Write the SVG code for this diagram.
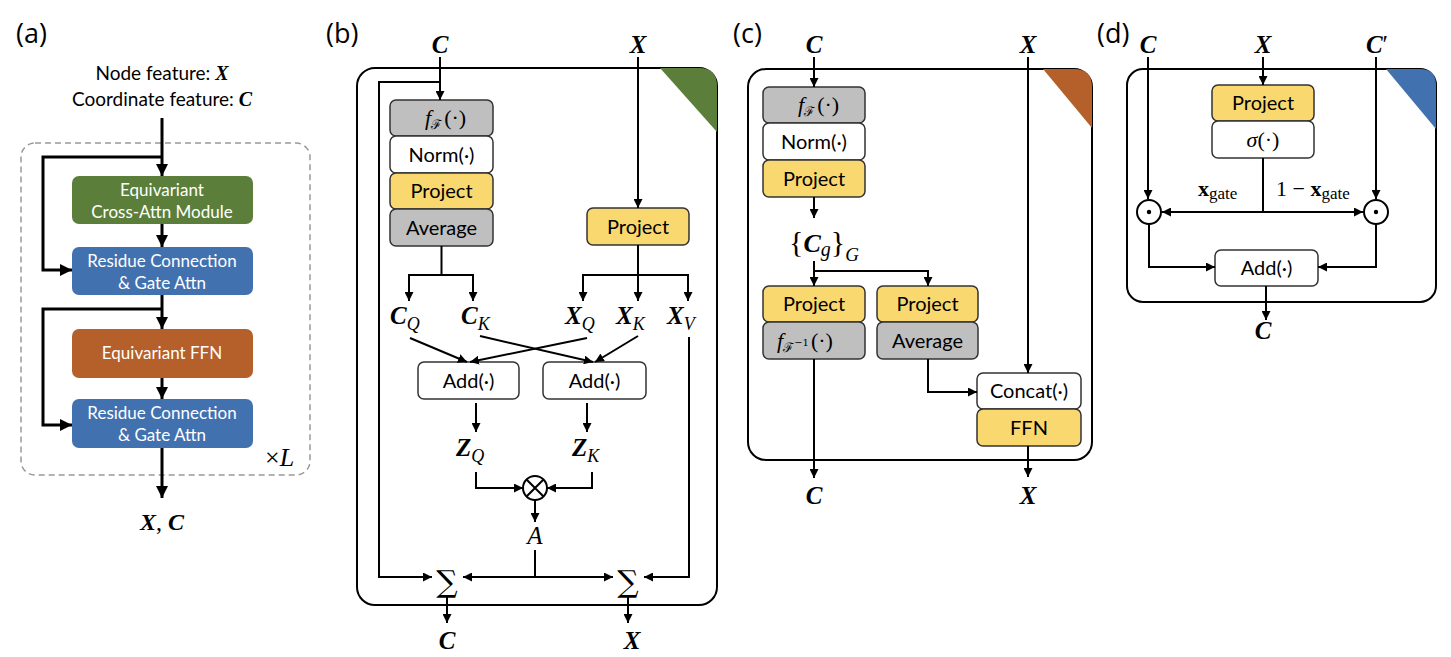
<svg xmlns="http://www.w3.org/2000/svg" width="1451" height="657" viewBox="0 0 1451 657">
<style>
.lbl{font-family:"Open Sans","Liberation Sans",sans-serif;font-size:27px;fill:#000}
.sans{font-family:Lato,"Liberation Sans",sans-serif;font-size:20px;fill:#000}
.wt{font-family:Lato,"Liberation Sans",sans-serif;font-size:17px;fill:#fff}
.m{font-family:"Liberation Serif","DejaVu Serif",serif;font-style:italic;font-weight:bold;font-size:25px;fill:#000}
.mi{font-family:"Liberation Serif","DejaVu Serif",serif;font-style:italic;font-size:22px;fill:#000}
.sub{font-family:"Liberation Serif","DejaVu Serif",serif;font-style:italic;font-weight:normal;font-size:18px}
.scr{font-family:"DejaVu Serif",serif;font-style:normal;font-size:13px}
.ln{fill:none;stroke:#000;stroke-width:2}
.lnA{fill:none;stroke:#000;stroke-width:3}
.box{stroke:#333;stroke-width:1.5}
.frame{fill:#fff;stroke:#000;stroke-width:2}
.gray{fill:#BFBFBF}
.yel{fill:#F9D96F}
.wh{fill:#fff}
</style>
<defs>
<marker id="ah" viewBox="0 0 10 10" refX="10" refY="5" markerWidth="9" markerHeight="9" markerUnits="userSpaceOnUse" orient="auto"><path d="M0,0 L10,5 L0,10 z" fill="#000"/></marker>
<marker id="ahA" viewBox="0 0 10 10" refX="10" refY="5" markerWidth="12" markerHeight="12" markerUnits="userSpaceOnUse" orient="auto"><path d="M0,0 L10,5 L0,10 z" fill="#000"/></marker>
</defs>

<!-- Panel labels -->
<text class="lbl" x="16" y="43">(a)</text>
<text class="lbl" x="326" y="43">(b)</text>
<text class="lbl" x="733" y="43">(c)</text>
<text class="lbl" x="1097" y="43">(d)</text>

<!-- ================= Panel (a) ================= -->
<g id="a-input">
<text class="sans" x="162" y="80" text-anchor="middle" style="font-size:19px">Node feature: <tspan class="m" style="font-size:20px">X</tspan></text>
<text class="sans" x="162" y="106" text-anchor="middle" style="font-size:19px">Coordinate feature: <tspan class="m" style="font-size:20px">C</tspan></text>
</g>
<rect id="a-repeat" x="21" y="143" width="289" height="332" rx="14" fill="none" stroke="#999" stroke-width="1.5" stroke-dasharray="6,4"/>
<g id="a-cross">
<rect x="72" y="176" width="181" height="48" rx="7" fill="#5B7F3A"/>
<text class="wt" x="162" y="196" text-anchor="middle">Equivariant</text>
<text class="wt" x="162" y="218" text-anchor="middle">Cross-Attn Module</text>
</g>
<g id="a-res1">
<rect x="72" y="247" width="181" height="48" rx="7" fill="#4271B0"/>
<text class="wt" x="162" y="267" text-anchor="middle">Residue Connection</text>
<text class="wt" x="162" y="289" text-anchor="middle">&amp; Gate Attn</text>
</g>
<g id="a-ffn">
<rect x="72" y="329" width="181" height="49" rx="7" fill="#B5602A"/>
<text class="wt" x="162" y="359" text-anchor="middle">Equivariant FFN</text>
</g>
<g id="a-res2">
<rect x="72" y="399" width="181" height="49" rx="7" fill="#4271B0"/>
<text class="wt" x="162" y="419" text-anchor="middle">Residue Connection</text>
<text class="wt" x="162" y="441" text-anchor="middle">&amp; Gate Attn</text>
</g>
<text id="a-times" class="mi" x="265" y="466" style="font-size:26px;font-style:normal">×<tspan style="font-style:italic">L</tspan></text>
<text id="a-out" class="m" x="162" y="530" text-anchor="middle" style="font-size:24px">X<tspan style="font-weight:normal;font-style:normal">, </tspan>C</text>
<g id="a-connectors">
<path class="lnA" d="M162,118 V176" marker-end="url(#ahA)"/>
<path class="lnA" d="M162,157 H43 V270 H72" marker-end="url(#ahA)"/>
<path class="lnA" d="M162,224 V247" marker-end="url(#ahA)"/>
<path class="lnA" d="M162,295 V329" marker-end="url(#ahA)"/>
<path class="lnA" d="M162,309 H43 V425 H72" marker-end="url(#ahA)"/>
<path class="lnA" d="M162,378 V399" marker-end="url(#ahA)"/>
<path class="lnA" d="M162,448 V498" marker-end="url(#ahA)"/>
</g>

<!-- ================= Panel (b) ================= -->
<g id="b-frame">
<rect class="frame" x="357" y="68" width="360" height="537" rx="18"/>
<path d="M660,68 H699 Q717,68 717,86 V132 Z" fill="#5B7F3A"/>
</g>
<g id="b-inputs">
<text class="m" x="440" y="53" text-anchor="middle">C</text>
<text class="m" x="638" y="53" text-anchor="middle">X</text>
</g>
<g id="b-cstack">
<rect class="box gray" x="390" y="100" width="103" height="36" rx="6"/>
<text class="mi" x="425" y="125">f<tspan class="scr" dy="4">ℱ</tspan><tspan style="font-style:normal" dy="-4" dx="2">(·)</tspan></text>
<rect class="box wh" x="390" y="136" width="103" height="37" rx="6"/>
<text class="sans" x="441.5" y="162" text-anchor="middle">Norm(·)</text>
<rect class="box yel" x="390" y="173" width="103" height="36" rx="6"/>
<text class="sans" x="441.5" y="198" text-anchor="middle">Project</text>
<rect class="box gray" x="390" y="209" width="103" height="37" rx="6"/>
<text class="sans" x="441.5" y="235" text-anchor="middle">Average</text>
</g>
<g id="b-xproj">
<rect class="box yel" x="587" y="208" width="102" height="37" rx="6"/>
<text class="sans" x="638" y="234" text-anchor="middle">Project</text>
</g>
<g id="b-vars">
<text class="m" x="390" y="324">C<tspan class="sub" dy="6">Q</tspan></text>
<text class="m" x="461" y="324">C<tspan class="sub" dy="6">K</tspan></text>
<text class="m" x="565" y="324">X<tspan class="sub" dy="6">Q</tspan></text>
<text class="m" x="616" y="324">X<tspan class="sub" dy="6">K</tspan></text>
<text class="m" x="667" y="324">X<tspan class="sub" dy="6">V</tspan></text>
</g>
<g id="b-add1">
<rect class="box wh" x="418" y="362" width="101" height="37" rx="6"/>
<text class="sans" x="468.5" y="388" text-anchor="middle">Add(·)</text>
</g>
<g id="b-add2">
<rect class="box wh" x="543" y="362" width="103" height="37" rx="6"/>
<text class="sans" x="594.5" y="388" text-anchor="middle">Add(·)</text>
</g>
<g id="b-z">
<text class="m" x="456" y="456">Z<tspan class="sub" dy="6">Q</tspan></text>
<text class="m" x="572" y="456">Z<tspan class="sub" dy="6">K</tspan></text>
</g>
<g id="b-otimes">
<circle cx="535" cy="488" r="12" fill="#fff" stroke="#000" stroke-width="2"/>
<path d="M526.5,479.5 L543.5,496.5 M543.5,479.5 L526.5,496.5" stroke="#000" stroke-width="2"/>
</g>
<text id="b-A" class="mi" x="535" y="544" text-anchor="middle" style="font-size:25px">A</text>
<g id="b-sums">
<text x="447" y="592" text-anchor="middle" font-family="DejaVu Serif,serif" font-size="30">∑</text>
<text x="628" y="592" text-anchor="middle" font-family="DejaVu Serif,serif" font-size="30">∑</text>
</g>
<g id="b-outputs">
<text class="m" x="447" y="649" text-anchor="middle">C</text>
<text class="m" x="632" y="649" text-anchor="middle">X</text>
</g>
<g id="b-connectors">
<path class="ln" d="M440,57 V100" marker-end="url(#ah)"/>
<path class="ln" d="M440,82 H379 V577 H432" marker-end="url(#ah)"/>
<path class="ln" d="M638,57 V208" marker-end="url(#ah)"/>
<path class="ln" d="M441.5,246 V275"/>
<path class="ln" d="M409,300 V275 H473 V300" />
<path class="ln" d="M409,285 V301" marker-end="url(#ah)"/>
<path class="ln" d="M473,285 V301" marker-end="url(#ah)"/>
<path class="ln" d="M638,245 V301" marker-end="url(#ah)"/>
<path class="ln" d="M583,301 V275 H688 V301"/>
<path class="ln" d="M583,285 V301" marker-end="url(#ah)"/>
<path class="ln" d="M688,285 V301" marker-end="url(#ah)"/>
<path class="ln" d="M410,338 L467,362" marker-end="url(#ah)"/>
<path class="ln" d="M587,338 L470,362" marker-end="url(#ah)"/>
<path class="ln" d="M480,336 L593,362" marker-end="url(#ah)"/>
<path class="ln" d="M638,336 L595,362" marker-end="url(#ah)"/>
<path class="ln" d="M476,403 V432" marker-end="url(#ah)"/>
<path class="ln" d="M587,403 V432" marker-end="url(#ah)"/>
<path class="ln" d="M476,472 V488 H523" marker-end="url(#ah)"/>
<path class="ln" d="M592,472 V488 H547" marker-end="url(#ah)"/>
<path class="ln" d="M535,500 V522" marker-end="url(#ah)"/>
<path class="ln" d="M535,550 V577"/>
<path class="ln" d="M535,577 H463" marker-end="url(#ah)"/>
<path class="ln" d="M535,577 H613" marker-end="url(#ah)"/>
<path class="ln" d="M689,337 V577 H644" marker-end="url(#ah)"/>
<path class="ln" d="M447,597 V623" marker-end="url(#ah)"/>
<path class="ln" d="M628,597 V623" marker-end="url(#ah)"/>
</g>

<!-- ================= Panel (c) ================= -->
<g id="c-frame">
<rect class="frame" x="748" y="69" width="344" height="391" rx="18"/>
<path d="M1043,69 H1074 Q1092,69 1092,87 V128 Z" fill="#B5602A"/>
</g>
<g id="c-inputs">
<text class="m" x="814" y="53" text-anchor="middle">C</text>
<text class="m" x="1028" y="53" text-anchor="middle">X</text>
</g>
<g id="c-cstack">
<rect class="box gray" x="763" y="87" width="102" height="36" rx="6"/>
<text class="mi" x="798" y="112">f<tspan class="scr" dy="4">ℱ</tspan><tspan style="font-style:normal" dy="-4" dx="2">(·)</tspan></text>
<rect class="box wh" x="763" y="123" width="102" height="37" rx="6"/>
<text class="sans" x="814" y="149" text-anchor="middle">Norm(·)</text>
<rect class="box yel" x="763" y="160" width="102" height="37" rx="6"/>
<text class="sans" x="814" y="186" text-anchor="middle">Project</text>
</g>
<text id="c-cg" class="mi" x="789" y="252" style="font-size:30px;font-style:normal">{<tspan class="m" style="font-size:26px">C</tspan><tspan class="sub" style="font-size:20px" dy="4">g</tspan><tspan dy="-4">}</tspan><tspan class="sub" style="font-size:19px" dy="9">G</tspan></text>
<g id="c-left">
<rect class="box yel" x="763" y="286" width="102" height="36" rx="6"/>
<text class="sans" x="814" y="311" text-anchor="middle">Project</text>
<rect class="box gray" x="763" y="322" width="102" height="37" rx="6"/>
<text class="mi" x="777" y="348">f<tspan class="scr" dy="4">ℱ</tspan><tspan class="scr" style="font-size:10px" dy="-6">−1</tspan><tspan style="font-style:normal" dy="2" dx="2">(·)</tspan></text>
</g>
<g id="c-right">
<rect class="box yel" x="877" y="286" width="101" height="36" rx="6"/>
<text class="sans" x="927.5" y="311" text-anchor="middle">Project</text>
<rect class="box gray" x="877" y="322" width="101" height="37" rx="6"/>
<text class="sans" x="927.5" y="348" text-anchor="middle">Average</text>
</g>
<g id="c-concat">
<rect class="box wh" x="977" y="373" width="104" height="36" rx="6"/>
<text class="sans" x="1029" y="398" text-anchor="middle">Concat(·)</text>
<rect class="box yel" x="977" y="409" width="104" height="37" rx="6"/>
<text class="sans" x="1029" y="435" text-anchor="middle">FFN</text>
</g>
<g id="c-outputs">
<text class="m" x="814" y="504" text-anchor="middle">C</text>
<text class="m" x="1028" y="504" text-anchor="middle">X</text>
</g>
<g id="c-connectors">
<path class="ln" d="M814,57 V87" marker-end="url(#ah)"/>
<path class="ln" d="M814,197 V218" marker-end="url(#ah)"/>
<path class="ln" d="M814,261 V286" marker-end="url(#ah)"/>
<path class="ln" d="M814,271 H928 V286" marker-end="url(#ah)"/>
<path class="ln" d="M814,359 V478" marker-end="url(#ah)"/>
<path class="ln" d="M928,359 V392 H977" marker-end="url(#ah)"/>
<path class="ln" d="M1028,57 V373" marker-end="url(#ah)"/>
<path class="ln" d="M1028,446 V477" marker-end="url(#ah)"/>
</g>

<!-- ================= Panel (d) ================= -->
<g id="d-frame">
<rect class="frame" x="1127" y="69" width="309" height="233" rx="16"/>
<path d="M1386,69 H1420 Q1436,69 1436,85 V129 Z" fill="#4271B0"/>
</g>
<g id="d-inputs">
<text class="m" x="1148" y="53" text-anchor="middle">C</text>
<text class="m" x="1263" y="53" text-anchor="middle">X</text>
<text class="m" x="1377" y="53" text-anchor="middle">C<tspan style="font-weight:normal;font-style:normal">′</tspan></text>
</g>
<g id="d-gate">
<rect class="box yel" x="1212" y="85" width="102" height="36" rx="6"/>
<text class="sans" x="1263" y="110" text-anchor="middle">Project</text>
<rect class="box wh" x="1212" y="121" width="102" height="37" rx="6"/>
<text class="mi" x="1263" y="147" text-anchor="middle">σ<tspan style="font-style:normal">(·)</tspan></text>
</g>
<g id="d-labels">
<text x="1198" y="196" font-family="Liberation Serif,serif" font-weight="bold" font-size="22">x<tspan font-weight="normal" font-size="17" dy="3">gate</tspan></text>
<text x="1276" y="196" font-family="Liberation Serif,serif" font-size="22">1 − <tspan font-weight="bold">x</tspan><tspan font-size="17" dy="3">gate</tspan></text>
</g>
<g id="d-odot1">
<circle cx="1149" cy="212" r="12" fill="#fff" stroke="#000" stroke-width="2"/>
<circle cx="1149" cy="212" r="2.2" fill="#000"/>
</g>
<g id="d-odot2">
<circle cx="1376" cy="212" r="12" fill="#fff" stroke="#000" stroke-width="2"/>
<circle cx="1376" cy="212" r="2.2" fill="#000"/>
</g>
<g id="d-add">
<rect class="box wh" x="1215" y="250" width="103" height="36" rx="6"/>
<text class="sans" x="1266.5" y="275" text-anchor="middle">Add(·)</text>
</g>
<text id="d-out" class="m" x="1263" y="339" text-anchor="middle">C</text>
<g id="d-connectors">
<path class="ln" d="M1148,57 V199" marker-end="url(#ah)"/>
<path class="ln" d="M1263,57 V85" marker-end="url(#ah)"/>
<path class="ln" d="M1376,57 V199" marker-end="url(#ah)"/>
<path class="ln" d="M1263,158 V212"/>
<path class="ln" d="M1263,212 H1162" marker-end="url(#ah)"/>
<path class="ln" d="M1263,212 H1363" marker-end="url(#ah)"/>
<path class="ln" d="M1149,224 V267 H1215" marker-end="url(#ah)"/>
<path class="ln" d="M1376,224 V267 H1318" marker-end="url(#ah)"/>
<path class="ln" d="M1266,286 V320" marker-end="url(#ah)"/>
</g>
</svg>
